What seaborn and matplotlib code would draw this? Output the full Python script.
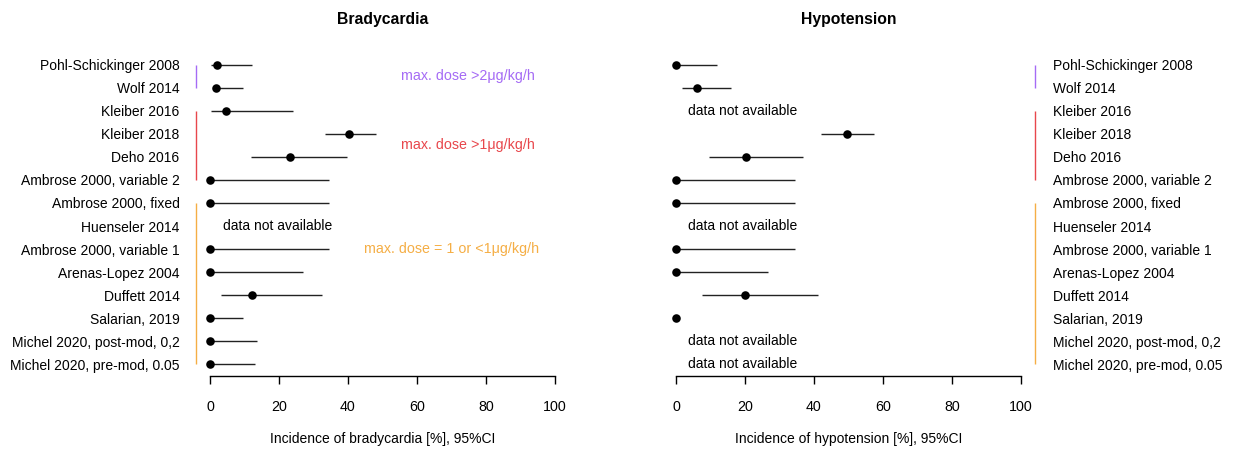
import numpy as np
import pandas as pd
import matplotlib
matplotlib.use("Agg")
import matplotlib.pyplot as plt
import seaborn as sns

# study labels, top to bottom
studies = [
    "Pohl-Schickinger 2008", "Wolf 2014", "Kleiber 2016", "Kleiber 2018",
    "Deho 2016", "Ambrose 2000, variable 2", "Ambrose 2000, fixed",
    "Huenseler 2014", "Ambrose 2000, variable 1", "Arenas-Lopez 2004",
    "Duffett 2014", "Salarian, 2019", "Michel 2020, post-mod, 0,2",
    "Michel 2020, pre-mod, 0.05",
]

# bradycardia incidence [%] and 95% CI (nan = data not available)
brady_est = [2.1, 1.7, 4.5, 40.3, 23.2, 0, 0, np.nan, 0, 0, 12.1, 0, 0, 0]
brady_lo = [0.2, 0.8, 0.2, 33.2, 11.8, 0, 0, np.nan, 0, 0, 3.3, 0, 0, 0]
brady_hi = [12.2, 9.7, 24.1, 48.1, 39.8, 34.5, 34.5, np.nan, 34.5, 26.9, 32.5, 9.7, 13.5, 13.1]

# hypotension incidence [%] and 95% CI
hypo_est = [0, 6.2, np.nan, 49.7, 20.3, 0, 0, np.nan, 0, 0, 19.9, 0, np.nan, np.nan]
hypo_lo = [0, 1.8, np.nan, 42.1, 9.7, 0, 0, np.nan, 0, 0, 7.4, 0, np.nan, np.nan]
hypo_hi = [11.8, 15.9, np.nan, 57.3, 36.9, 34.4, 34.4, np.nan, 34.4, 26.8, 41.3, 0, np.nan, np.nan]

# dose groups: (first row, last row, colour, label, label x, label row)
groups = [
    (1, 2, "#A56BF5", "max. dose >2\u03bcg/kg/h", 55.5, 1.5),
    (3, 6, "#E8474C", "max. dose >1\u03bcg/kg/h", 55.5, 4.5),
    (7, 14, "#F5AE45", "max. dose = 1 or <1\u03bcg/kg/h", 44.5, 9),
]

sns.set_style("white")
plt.rcParams["font.family"] = ["Liberation Sans", "DejaVu Sans"]
plt.rcParams["font.size"] = 10
plt.rcParams["text.color"] = "black"
plt.rcParams["xtick.color"] = "black"
plt.rcParams["ytick.color"] = "black"
plt.rcParams["axes.labelcolor"] = "black"
plt.rcParams["axes.edgecolor"] = "black"

W, H = 1236, 449
fig = plt.figure(figsize=(W / 100, H / 100), dpi=100)

def px_axes(x0, x1, y0, y1):
    return fig.add_axes([x0 / W, 1 - y1 / H, (x1 - x0) / W, (y1 - y0) / H])

ax_b = px_axes(196.2, 568.8, 53, 376)
ax_h = px_axes(662.2, 1034.8, 53, 376)

rows = np.arange(1, len(studies) + 1)


def forest(ax, est, lo, hi, na_x, bar_x, title, xlabel, labels_right=False):
    df = pd.DataFrame({"row": rows, "est": est, "lo": lo, "hi": hi})
    ok = df.dropna()
    ax.hlines(ok["row"], ok["lo"], ok["hi"], color="#222222", lw=1.0)
    sns.scatterplot(data=ok, x="est", y="row", color="black", s=38,
                    edgecolor="black", linewidth=0, zorder=3, ax=ax)
    for r in df.loc[df["est"].isna(), "row"]:
        ax.text(na_x, r, "data not available", va="center", ha="left", fontsize=10)
    for g0, g1, col, _, _, _ in groups:
        ax.vlines(bar_x, g0, g1, color=col, lw=1.0, clip_on=False)

    ax.set_xlim(-4, 104)
    ax.set_ylim(14.52, 0.48)
    ax.set_yticks(rows)
    ax.set_yticklabels(studies)
    ax.set_xticks([0, 20, 40, 60, 80, 100])
    for s in ["top", "left", "right"]:
        ax.spines[s].set_visible(False)
    ax.spines["bottom"].set_bounds(0, 100)
    ax.spines["bottom"].set_linewidth(1.0)
    ax.tick_params(axis="x", direction="out", length=6, width=1.0, pad=11,
                   bottom=True, labelsize=10.3)
    if labels_right:
        ax.yaxis.tick_right()
        ax.tick_params(axis="y", length=0, pad=13)
    else:
        ax.tick_params(axis="y", length=0, pad=12)
    ax.set_xlabel(xlabel, fontsize=10, labelpad=13)
    ax.set_ylabel("")
    ax.set_title(title, fontweight="bold", fontsize=11.3, pad=21)
    ax.grid(False)


forest(ax_b, brady_est, brady_lo, brady_hi, 3.8, -4, "Bradycardia",
       "Incidence of bradycardia [%], 95%CI")
forest(ax_h, hypo_est, hypo_lo, hypo_hi, 3.6, 104, "Hypotension",
       "Incidence of hypotension [%], 95%CI", labels_right=True)

for _, _, col, txt, tx, ty in groups:
    ax_b.text(tx, ty, txt, color=col, va="center", ha="left", fontsize=10.3)

fig.savefig("out.png", dpi=100, facecolor="white")
